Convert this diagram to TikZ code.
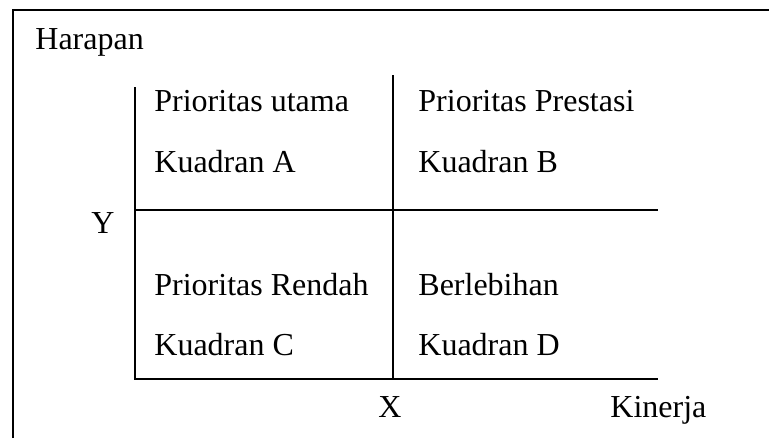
\documentclass[tikz,border=0pt]{standalone}
\usepackage{fontspec}
\setmainfont{Liberation Serif}
\begin{document}
\begin{tikzpicture}[x=0.5pt,y=-0.5pt,
  rule/.style={line width=1.3pt,line cap=rect},
  lbl/.style={anchor=base west,inner sep=0pt,font=\fontsize{16}{19}\selectfont}]
\useasboundingbox (0,0) rectangle (769,438);

% frame corners
\coordinate (fbl) at (13,438);
\coordinate (ftl) at (13,10);
\coordinate (ftr) at (769,10);
\draw[line width=1.3pt] (fbl) -- (ftl) -- (ftr);

% quadrant grid
\coordinate (ytop) at (135,88);
\coordinate (origin) at (135,379);
\coordinate (xend) at (657,379);
\coordinate (midl) at (135,210);
\coordinate (midr) at (657,210);
\coordinate (vtop) at (393,76);
\coordinate (vbot) at (393,379);
\draw[rule] (ytop) -- (origin) -- (xend);
\draw[rule] (midl) -- (midr);
\draw[rule] (vtop) -- (vbot);

% labels
\node[lbl] (harapan) at (35,50) {Harapan};
\node[lbl] (pa) at (154,112) {Prioritas utama};
\node[lbl] (ka) at (154,172) {Kuadran A};
\node[lbl] (pb) at (418,112) {Prioritas Prestasi};
\node[lbl] (kb) at (418,172) {Kuadran B};
\node[lbl] (ylab) at (91,233) {Y};
\node[lbl] (pc) at (154,295) {Prioritas Rendah};
\node[lbl] (kc) at (154,355) {Kuadran C};
\node[lbl] (pd) at (418,295) {Berlebihan};
\node[lbl] (kd) at (418,355) {Kuadran D};
\node[lbl] (xlab) at (378,417) {X};
\node[lbl] (kinerja) at (610,417) {Kinerja};
\end{tikzpicture}
\end{document}
